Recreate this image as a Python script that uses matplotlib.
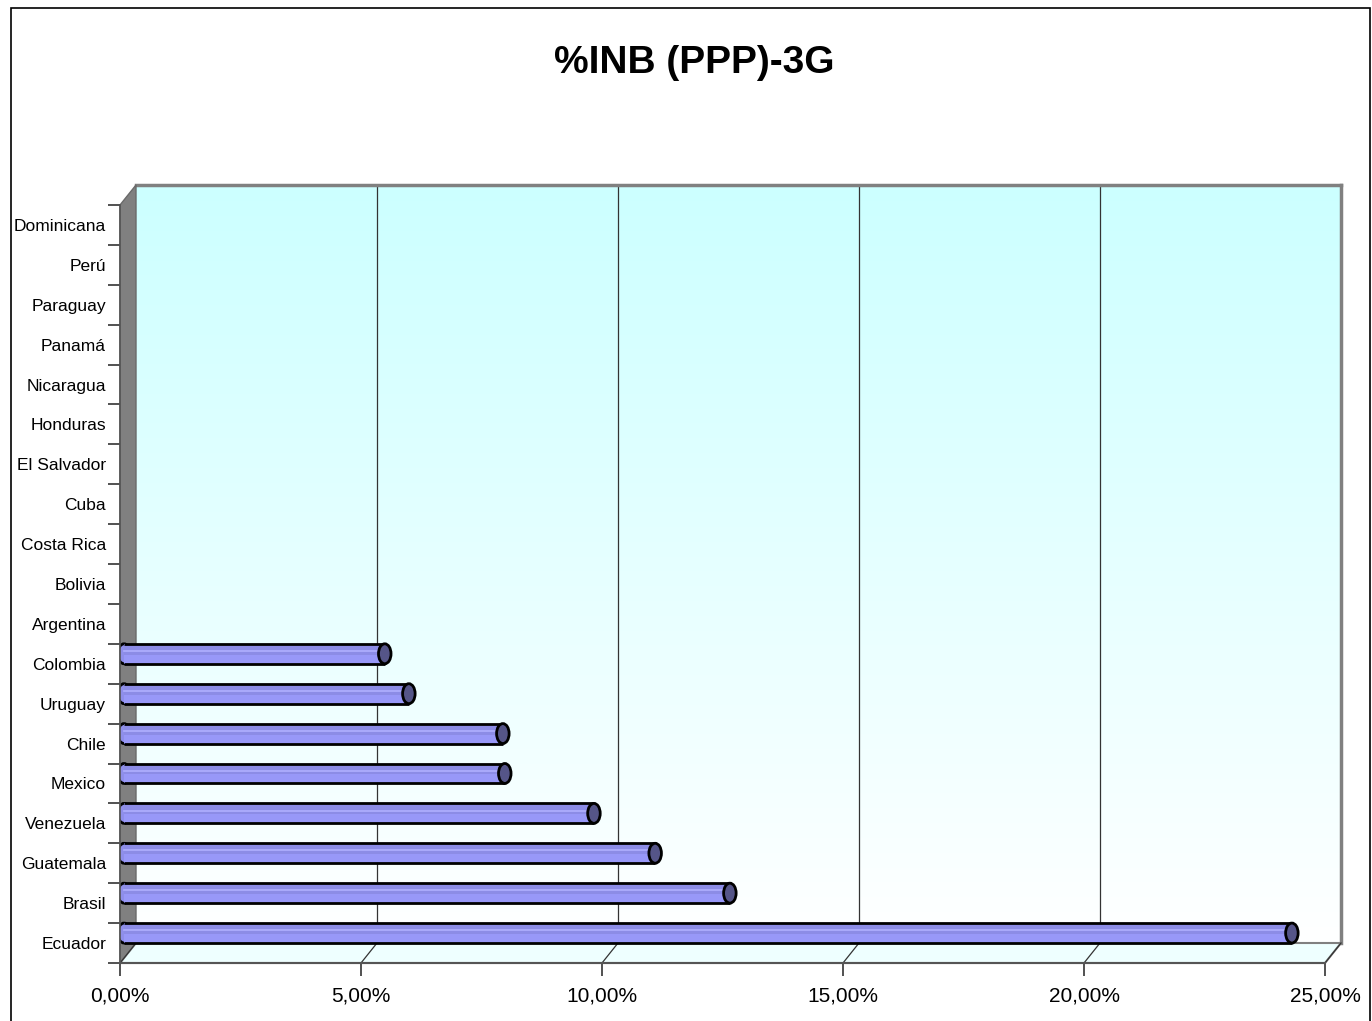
import numpy as np
import matplotlib.pyplot as plt
from matplotlib.patches import Rectangle, Polygon, Ellipse
from matplotlib.transforms import ScaledTranslation
from matplotlib.colors import LinearSegmentedColormap

# categories listed bottom -> top, values in percent (blank = no data)
countries = ["Ecuador", "Brasil", "Guatemala", "Venezuela", "Mexico", "Chile",
             "Uruguay", "Colombia", "Argentina", "Bolivia", "Costa Rica", "Cuba",
             "El Salvador", "Honduras", "Nicaragua", "Panamá", "Paraguay", "Perú",
             "Dominicana"]
values = [24.23, 12.57, 11.02, 9.75, 7.90, 7.86, 5.91, 5.41,
          np.nan, np.nan, np.nan, np.nan, np.nan, np.nan, np.nan, np.nan,
          np.nan, np.nan, np.nan]
x_ticks = [0, 5, 10, 15, 20, 25]
title = "%INB (PPP)-3G"

plt.rcParams["font.family"] = ["Liberation Sans", "DejaVu Sans"]

W, H = 1372, 1021
fig = plt.figure(figsize=(W / 100, H / 100), dpi=100)

# depth of the 3D box, in pixels
DX, DY = 16, 20
fl, fb, fw, fh = 120, 963, 1205, 758   # front frame (left, bottom, width, height)

# back wall
axb = fig.add_axes([(fl + DX) / W, (H - fb + DY) / H, fw / W, fh / H], zorder=0)
cmap = LinearSegmentedColormap.from_list("wall", ["#FFFFFF", "#CCFFFF"])
axb.imshow(np.linspace(0, 1, 256).reshape(-1, 1), cmap=cmap, aspect="auto",
           origin="lower", extent=[0, 25, -0.5, len(countries) - 0.5])
axb.set_xlim(0, 25)
axb.set_ylim(-0.5, len(countries) - 0.5)
for v in x_ticks[1:-1]:
    axb.axvline(v, color="#333333", lw=0.9)
axb.set_xticks([])
axb.set_yticks([])
for s in ["left", "bottom"]:
    axb.spines[s].set_visible(False)
for s in ["top", "right"]:
    axb.spines[s].set_color("#808080")
    axb.spines[s].set_linewidth(2.5)

# front axes (scales, ticks, bars)
ax = fig.add_axes([fl / W, (H - fb) / H, fw / W, fh / H], zorder=1)
ax.set_facecolor("none")
ax.set_xlim(0, 25)
ax.set_ylim(-0.5, len(countries) - 0.5)

dxa, dya = DX / fw, DY / fh
left_wall = Polygon([(0, 0), (0, 1), (dxa, 1 + dya), (dxa, dya)], closed=True,
                    transform=ax.transAxes, facecolor="#808080",
                    edgecolor="#6a6a6a", lw=1, clip_on=False, zorder=0)
ax.add_patch(left_wall)
floor = Polygon([(0, 0), (1, 0), (1 + dxa, dya), (dxa, dya)], closed=True,
                transform=ax.transAxes, facecolor="#EEFFFF",
                edgecolor="#808080", lw=1.5, clip_on=False, zorder=0)
ax.add_patch(floor)
# floor grid diagonals
for v in x_ticks:
    xa = v / 25
    ax.plot([xa, xa + dxa], [0, dya], transform=ax.transAxes, color="#333333",
            lw=0.9, clip_on=False, zorder=0.5)

# cylinders at mid depth
off = ScaledTranslation(4 / 100, 10 / 100, fig.dpi_scale_trans)
bt = ax.transData + off
ypos = np.arange(len(countries))
bh = 0.5
cap_w = 0.26
for y, v in zip(ypos, values):
    if np.isnan(v):
        continue
    ax.add_patch(Ellipse((0, y), cap_w, bh, transform=bt, facecolor="#8E8EEA",
                         edgecolor="black", lw=2, zorder=2))
    ax.add_patch(Rectangle((0, y - bh / 2), v, bh, transform=bt,
                           facecolor="#8C8CE6", lw=0, zorder=3))
    ax.add_patch(Rectangle((0, y - bh / 2), v, bh * 0.45, transform=bt,
                           facecolor="#9898F8", lw=0, zorder=3))
    ax.plot([0, v], [y + 0.07, y + 0.07], transform=bt, color="#B0B0FF",
            lw=1.2, zorder=3.5)
    ax.plot([0, v], [y + bh / 2, y + bh / 2], transform=bt, color="black",
            lw=2, zorder=4, solid_capstyle="butt")
    ax.plot([0, v], [y - bh / 2, y - bh / 2], transform=bt, color="black",
            lw=2, zorder=4, solid_capstyle="butt")
    ax.add_patch(Ellipse((v, y), cap_w, bh, angle=0, transform=bt,
                         facecolor="#555588", edgecolor="black", lw=2,
                         zorder=5))

# axes styling
for s in ["top", "right"]:
    ax.spines[s].set_visible(False)
ax.spines["left"].set_color("#555555")
ax.spines["bottom"].set_color("#555555")
ax.spines["left"].set_linewidth(1.2)
ax.spines["bottom"].set_linewidth(1.5)

ax.set_xticks(x_ticks)
ax.set_xticklabels([f"{v:.2f}".replace(".", ",") + "%" for v in x_ticks],
                   fontsize=15)
ax.tick_params(axis="x", direction="out", length=9, width=1.2,
               color="#333333", pad=8)

ax.set_yticks(ypos)
ax.set_yticklabels(countries, fontsize=12.5)
ax.set_yticks(np.arange(len(countries) + 1) - 0.5, minor=True)
ax.tick_params(axis="y", which="major", length=0, pad=10)
ax.tick_params(axis="y", which="minor", direction="out", length=9, width=1.2,
               color="#333333")

fig.text(694 / W, 1 - 63 / H, title, ha="center", va="center",
         fontsize=28, fontweight="bold")

# outer chart border
fig.add_artist(Rectangle((11 / W, -0.01), (1370 - 11) / W, 1 - 8 / H + 0.01,
                         transform=fig.transFigure, fill=False,
                         edgecolor="black", lw=1.2))

fig.savefig("out.png", dpi=100)
